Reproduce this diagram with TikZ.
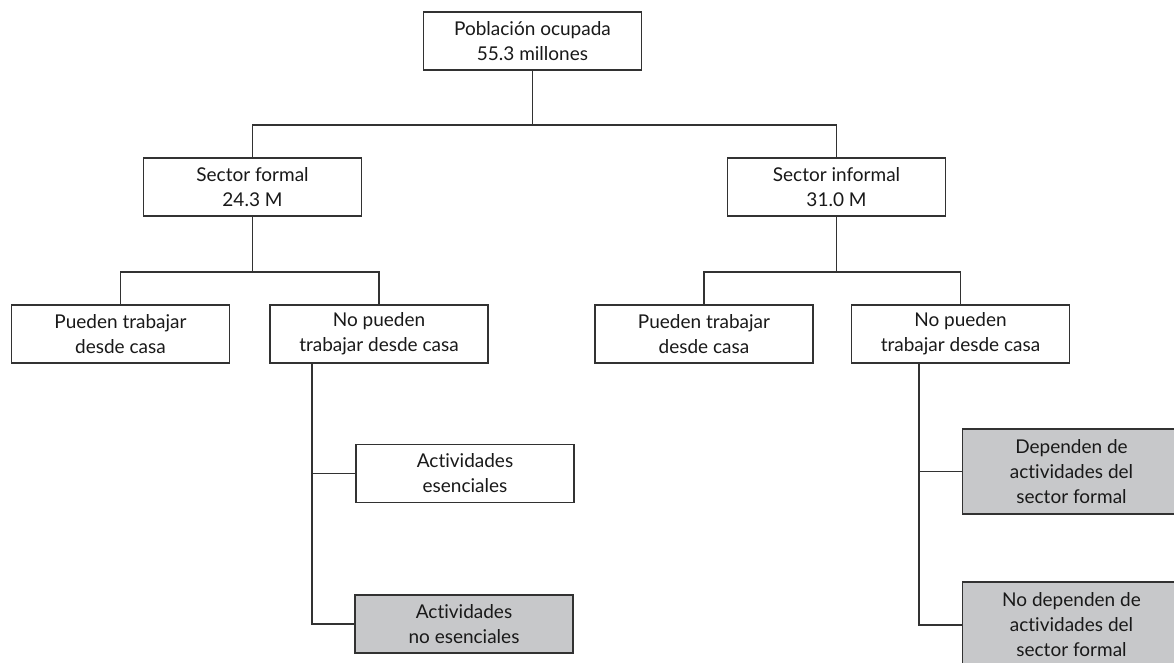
\documentclass[tikz,border=0pt]{standalone}
\usepackage{fontspec}
\setmainfont{Lato}[Ligatures=CommonOff]
\definecolor{boxgray}{RGB}{199,200,202}
\definecolor{linegray}{RGB}{50,50,50}
\tikzset{
    caja/.style={draw=linegray, line width=1.5pt, fill=white, align=center,
        minimum width=218pt, minimum height=58pt, inner sep=0pt,
        text=black!90, font=\fontsize{19}{25}\selectfont},
    cajagris/.style={caja, fill=boxgray},
    rama/.style={draw=linegray, line width=1.5pt}
}
\begin{document}
\begin{tikzpicture}[x=1pt, y=-1pt]
    \useasboundingbox (0,0) rectangle (1174,663);
    \clip (0,0) rectangle (1174,663);
    % nivel 1 y 2
    \node[caja] (pob) at (532.5,41) {Población ocupada\\55.3 millones};
    \node[caja] (formal) at (252.5,187) {Sector formal\\24.3 M};
    \node[caja] (informal) at (836.5,187) {Sector informal\\31.0 M};
    % nivel 3
    \node[caja] (pueden1) at (120.5,334) {Pueden trabajar\\desde casa};
    \node[caja] (nopueden1) at (379,334) {No pueden\\trabajar desde casa};
    \node[caja] (pueden2) at (704,334) {Pueden trabajar\\desde casa};
    \node[caja] (nopueden2) at (960.5,334) {No pueden\\trabajar desde casa};
    % nivel 4
    \node[caja] (esen) at (465,473.5) {Actividades\\esenciales};
    \node[cajagris] (noesen) at (464,624) {Actividades\\no esenciales};
    \node[cajagris, minimum height=85pt] (dep) at (1071.5,471.5) {Dependen de\\actividades del\\sector formal};
    \node[cajagris, minimum height=86pt] (nodep) at (1071.5,625) {No dependen de\\actividades del\\sector formal};
    % uniones
    \coordinate (j0) at (532.5,125);
    \coordinate (j1) at (252.5,272);
    \coordinate (j2) at (836.5,272);
    \coordinate (v1) at (312,624);
    \coordinate (v2) at (919,625);
    \draw[rama] (pob.south) -- (j0);
    \draw[rama] (formal.north) |- (j0) -| (informal.north);
    \draw[rama] (formal.south) -- (j1);
    \draw[rama] (pueden1.north) |- (j1) -| (nopueden1.north);
    \draw[rama] (informal.south) -- (j2);
    \draw[rama] (pueden2.north) |- (j2) -| (nopueden2.north);
    \draw[rama] (nopueden1.south -| v1) -- (v1) -- (noesen.west);
    \draw[rama] (esen.west) -- (esen.west -| v1);
    \draw[rama] (nopueden2.south -| v2) -- (v2) -- (nodep.west);
    \draw[rama] (dep.west) -- (dep.west -| v2);
\end{tikzpicture}
\end{document}
